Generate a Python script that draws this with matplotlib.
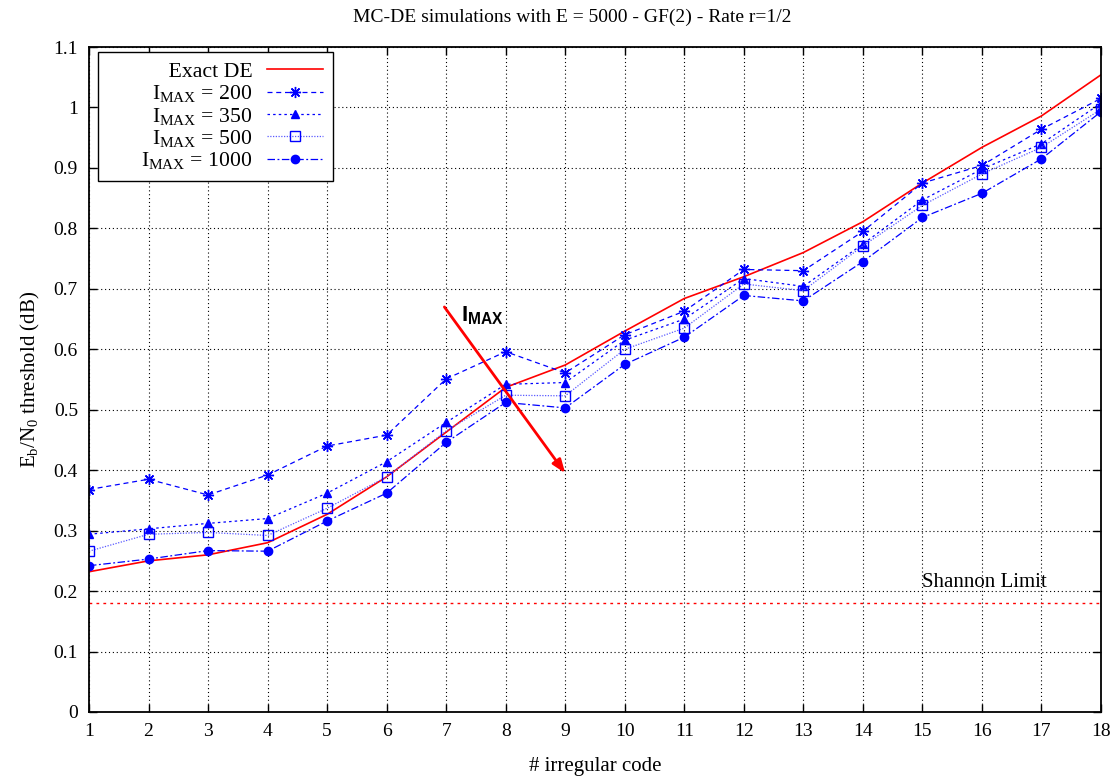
import numpy as np
import matplotlib
matplotlib.use("Agg")
import matplotlib.pyplot as plt
from matplotlib.ticker import FormatStrFormatter, MultipleLocator

plt.rcParams['font.family'] = 'Liberation Serif'
plt.rcParams['mathtext.fontset'] = 'custom'
plt.rcParams['mathtext.rm'] = 'Liberation Serif'
plt.rcParams['mathtext.it'] = 'Liberation Serif:italic'
plt.rcParams['mathtext.bf'] = 'Liberation Sans:bold'

# data
codes = np.arange(1, 19)
exact_de = [0.232, 0.250, 0.260, 0.280, 0.327, 0.389, 0.463, 0.537, 0.574, 0.630,
            0.684, 0.720, 0.760, 0.811, 0.875, 0.934, 0.986, 1.054]
imax_200 = [0.368, 0.385, 0.359, 0.392, 0.440, 0.458, 0.551, 0.596, 0.561, 0.624,
            0.663, 0.732, 0.730, 0.795, 0.875, 0.904, 0.964, 1.015]
imax_350 = [0.294, 0.303, 0.312, 0.320, 0.362, 0.414, 0.479, 0.542, 0.545, 0.615,
            0.650, 0.717, 0.704, 0.774, 0.847, 0.898, 0.940, 1.007]
imax_500 = [0.266, 0.294, 0.297, 0.292, 0.337, 0.389, 0.465, 0.524, 0.523, 0.600,
            0.635, 0.708, 0.697, 0.771, 0.838, 0.890, 0.934, 0.997]
imax_1000 = [0.242, 0.253, 0.267, 0.266, 0.316, 0.362, 0.446, 0.512, 0.503, 0.575,
             0.620, 0.689, 0.680, 0.745, 0.818, 0.858, 0.915, 0.993]
shannon = 0.18

fig = plt.figure(figsize=(11.17, 7.77), dpi=100)
ax = fig.add_axes([89/1117, 65/777, 1012/1117, 665/777])

blue = '#0000ff'
# leading blanks widen the key box on the left, as gnuplot does
ax.plot(codes, exact_de, color='red', lw=1.2, label=' ' * 11 + 'Exact DE')
ax.plot(codes, imax_200, color=blue, lw=0.9, ls=(0, (4, 3)), marker=(8, 2, 0),
        ms=8, mew=1.0, label=r'I$_\mathrm{MAX}$ = 200')
ax.plot(codes, imax_350, color=blue, lw=0.9, ls=(0, (2, 2.5)), marker='^',
        ms=5.5, label=r'I$_\mathrm{MAX}$ = 350')
ax.plot(codes, imax_500, color='#5a5aff', lw=0.9, ls=(0, (1, 1.2)), marker='s',
        ms=7.5, mfc='none', mec=blue, mew=1.0, label=r'I$_\mathrm{MAX}$ = 500')
ax.plot(codes, imax_1000, color=blue, lw=0.9, ls=(0, (6, 2, 1.5, 2)), marker='o',
        ms=6, label=r'I$_\mathrm{MAX}$ = 1000')

ax.axhline(shannon, color='red', lw=1.0, ls=(0, (2, 3)))
ax.text(15.0, shannon + 0.027, 'Shannon Limit', fontsize=15, ha='left', va='baseline')

ax.annotate('', xy=(9.0, 0.395), xytext=(6.97, 0.67),
            arrowprops=dict(arrowstyle='-|>,head_length=0.8,head_width=0.3',
                            color='red', lw=2.0, shrinkA=0, shrinkB=0))
ax.text(7.25, 0.655, r'$\mathbf{I_{MAX}}$', fontsize=16, ha='left', va='center')

ax.set_xlim(1, 18)
ax.set_ylim(0, 1.1)
ax.xaxis.set_major_locator(MultipleLocator(1))
ax.yaxis.set_major_locator(MultipleLocator(0.1))
ax.yaxis.set_major_formatter(FormatStrFormatter('%g'))
ax.tick_params(direction='in', top=True, right=True, length=6, width=1.0,
               labelsize=14, pad=8)
ax.grid(True, color='black', ls=(0, (1, 2.5)), lw=0.8)
for s in ax.spines.values():
    s.set_linewidth(1.3)

fig.text(572/1117, 1 - 17/777, 'MC-DE simulations with E = 5000 - GF(2) - Rate r=1/2',
         fontsize=14, ha='center', va='center')
ax.set_xlabel('# irregular code', fontsize=15, labelpad=12)
ax.set_ylabel(r'E$_\mathrm{b}$/N$_\mathrm{0}$ threshold (dB)', fontsize=15, labelpad=8)

leg = ax.legend(loc='upper left', bbox_to_anchor=(0.0089, 0.9925), borderaxespad=0,
                markerfirst=False, fontsize=15.7, fancybox=False, framealpha=1,
                edgecolor='black', handlelength=2.6, labelspacing=0.06,
                borderpad=0.45, handletextpad=0.65)
leg.get_frame().set_linewidth(1.0)
# right-align the entries like the gnuplot key
for col in leg._legend_handle_box.get_children():
    col.align = 'right'

fig.savefig('out.png', dpi=100)
